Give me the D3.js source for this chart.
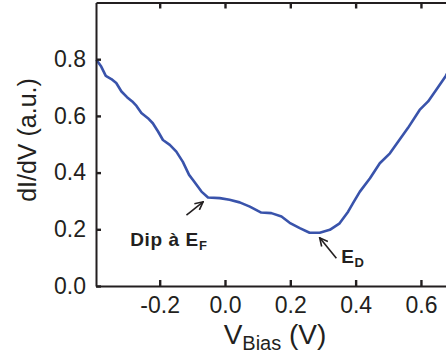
<!DOCTYPE html>
<html><head><meta charset="utf-8">
<script src="https://cdn.jsdelivr.net/npm/d3@7"></script>
<style>
html,body{margin:0;padding:0;background:#fff;}
svg{display:block;font-family:"Liberation Sans",Arial,sans-serif;}
</style></head>
<body>
<svg id="chart" width="446" height="356"></svg>
<script>
// ---- data ----
const vBias = [-0.394,-0.379,-0.365,-0.348,-0.333,-0.317,-0.300,-0.284,-0.271,-0.256,-0.236,-0.221,-0.205,-0.190,-0.169,-0.149,-0.129,-0.110,-0.098,-0.072,-0.052,-0.016,0.014,0.045,0.076,0.111,0.142,0.173,0.198,0.229,0.259,0.290,0.321,0.351,0.377,0.392,0.413,0.444,0.474,0.505,0.530,0.560,0.596,0.622,0.647,0.676,0.700];
const dIdV  = [0.798,0.774,0.741,0.730,0.716,0.686,0.666,0.651,0.635,0.610,0.592,0.574,0.545,0.515,0.498,0.474,0.438,0.392,0.374,0.333,0.312,0.310,0.304,0.295,0.280,0.259,0.257,0.245,0.223,0.204,0.188,0.188,0.198,0.221,0.262,0.292,0.333,0.380,0.433,0.468,0.509,0.557,0.621,0.651,0.692,0.741,0.790];
const xTicks = [-0.2,0.0,0.2,0.4,0.6];
const yTicks = [0.0,0.2,0.4,0.6,0.8];
const xDomain = [-0.395,0.7];
const yDomain = [0,1.0];
const annotations = [
  {label:"Dip à E", sub:"F", tx:-0.290, ty:0.141, ax0:-0.118, ay0:0.250, ax1:-0.067, ay1:0.297},
  {label:"E", sub:"D", tx:0.356, ty:0.081, ax0:0.341, ay0:0.098, ax1:0.290, ay1:0.170}
];

const svg = d3.select("#chart");
const x = d3.scaleLinear().domain(xDomain).range([96, 453.6]);
const y = d3.scaleLinear().domain(yDomain).range([286, 2.5]);
const ink = "#231f20";

svg.append("defs").append("marker")
  .attr("id","arr").attr("viewBox","0 0 10 10").attr("refX",9).attr("refY",5)
  .attr("markerWidth",10).attr("markerHeight",10).attr("markerUnits","userSpaceOnUse")
  .attr("orient","auto")
  .append("path").attr("d","M1,1 L9,5 L1,9").attr("fill","none").attr("stroke",ink).attr("stroke-width",1.6);

svg.append("path")
  .datum(vBias.map((v,i)=>[v,dIdV[i]]))
  .attr("d", d3.line().x(d=>x(d[0])).y(d=>y(d[1])))
  .attr("fill","none").attr("stroke","#3953ab").attr("stroke-width",2.6)
  .attr("stroke-linejoin","round");

const gx = svg.append("g").attr("transform","translate(0,286)")
  .call(d3.axisBottom(x).tickValues(xTicks).tickFormat(d3.format(".1f")).tickSizeInner(-6).tickSizeOuter(0).tickPadding(11));
const gxt = svg.append("g").attr("transform","translate(0,2.5)")
  .call(d3.axisTop(x).tickValues(xTicks).tickFormat("").tickSizeInner(-6).tickSizeOuter(0));
const gy = svg.append("g").attr("transform","translate(96,0)")
  .call(d3.axisLeft(y).tickValues(yTicks).tickFormat(d3.format(".1f")).tickSizeInner(-5).tickSizeOuter(0).tickPadding(10));
[gx,gxt,gy].forEach(g=>{
  g.select(".domain").attr("stroke",ink).attr("stroke-width",2);
  g.selectAll(".tick line").attr("stroke",ink).attr("stroke-width",2.4);
  g.selectAll(".tick text").attr("fill",ink).style("font-size","23px").style("font-family","'Liberation Sans',Arial,sans-serif");
});
gx.selectAll(".tick text").text(d=> d<0 ? "-"+Math.abs(d).toFixed(1) : d.toFixed(1));

svg.append("text").attr("transform","translate(36,140) rotate(-90)")
  .attr("text-anchor","middle").attr("fill",ink).style("font-size","25px")
  .text("dI/dV (a.u.)");
const xt = svg.append("text").attr("x",275).attr("y",344).attr("text-anchor","middle").attr("fill",ink).style("font-size","28px");
xt.append("tspan").text("V");
xt.append("tspan").attr("dy",6).style("font-size","20px").text("Bias");
xt.append("tspan").attr("dy",-6).text(" (V)");

annotations.forEach(a=>{
  svg.append("line").attr("x1",x(a.ax0)).attr("y1",y(a.ay0)).attr("x2",x(a.ax1)).attr("y2",y(a.ay1))
    .attr("stroke",ink).attr("stroke-width",1.6).attr("marker-end","url(#arr)");
  const t = svg.append("text").attr("x",x(a.tx)).attr("y",y(a.ty)).attr("fill",ink)
    .style("font-size","19px").style("font-weight","bold").style("letter-spacing","0.6px");
  t.append("tspan").text(a.label);
  t.append("tspan").attr("dy",4).style("font-size","13px").text(a.sub);
});
</script>
</body></html>
